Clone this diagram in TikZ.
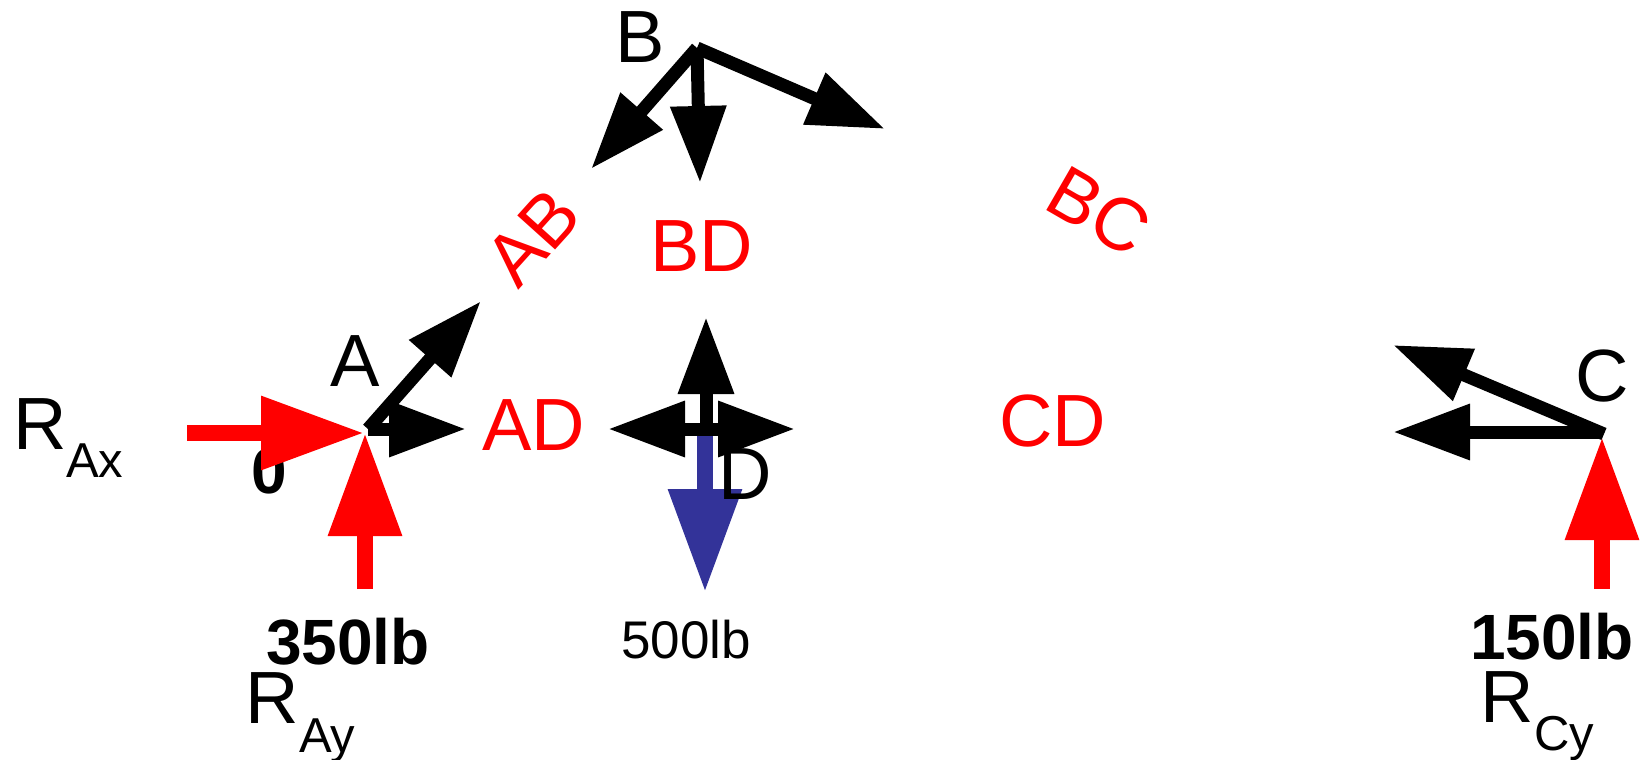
\documentclass[tikz,border=0pt]{standalone}
\usepackage{fontspec}
\setmainfont{Liberation Sans}
\usetikzlibrary{arrows.meta}
\tikzset{
  force/.style={line width=13pt,line cap=butt,-{Triangle[length=77pt,width=53pt,sep=0pt]},black},
  load/.style={line width=16pt,line cap=butt,-{Triangle[length=103pt,width=70pt,sep=0pt]}},
  lbl/.style={anchor=base,inner sep=0pt,outer sep=0pt,font=\fontsize{74}{74}\selectfont},
  rlbl/.style={lbl,text=red},
  rotlbl/.style={text=red,inner sep=0pt,font=\fontsize{74}{74}\selectfont},
  sub/.style={anchor=base west,inner sep=0pt,outer sep=0pt,font=\fontsize{49}{49}\selectfont},
  big/.style={anchor=base west,inner sep=0pt,outer sep=0pt,font=\fontsize{74}{74}\selectfont},
  val/.style={anchor=base,inner sep=0pt,outer sep=0pt,font=\fontsize{64}{64}\selectfont\bfseries},
}
\definecolor{loadblue}{HTML}{333399}
\begin{document}
\begin{tikzpicture}[x=1pt,y=-1pt]
\useasboundingbox (0,0) rectangle (1647,760);
% joints and free ends
\coordinate (Aj) at (368,429);
\coordinate (Atr) at (466,429);
\coordinate (Aur) at (481,301);
\coordinate (Bj) at (697,48);
\coordinate (Bl) at (591,169);
\coordinate (Bd) at (700,183);
\coordinate (Br) at (885,129);
\coordinate (Dj) at (704,429);
\coordinate (Dl) at (608,429);
\coordinate (Dr) at (795,429);
\coordinate (Du) at (706,317);
\coordinate (Cj) at (1604,434);
\coordinate (Ch) at (1600,432);
\coordinate (Cl) at (1393,432);
\coordinate (Cu) at (1393,345);
\coordinate (RxT) at (187,433);
\coordinate (RxH) at (364,433);
\coordinate (RyT) at (365,589);
\coordinate (RyH) at (365,433);
\coordinate (RcT) at (1602,589);
\coordinate (RcH) at (1602,437);
\coordinate (LdT) at (705,436);
\coordinate (LdH) at (705,592);
% values under the arrows
\node[val] (zero) at (269,493) {0};
% member forces
\draw[force] (Aj) -- (Aur);
\draw[force] (Aj) -- (Atr);
\draw[force] (Bj) -- (Bl);
\draw[force] (Bj) -- (Bd);
\draw[force] (Bj) -- (Br);
\draw[force] (Du |- Dj) -- (Du);
\draw[force] (Dj) -- (Dl);
\draw[force] (Dj) -- (Dr);
\draw[force] (Ch) -- (Cl);
\draw[force] (Cj) -- (Cu);
% loads and reactions
\draw[load,red] (RxT) -- (RxH);
\draw[load,red] (RyT) -- (RyH);
\draw[load,red] (RcT) -- (RcH);
\draw[load,loadblue] (LdT) -- (LdH);
% joint labels
\node[lbl] (A) at (355,386) {A};
\node[lbl] (B) at (640,63) {B};
\node[lbl] (C) at (1602,401) {C};
\node[lbl] (D) at (745,499) {D};
% member labels
\node[rlbl] (AD) at (534,450) {AD};
\node[rlbl] (CD) at (1053,446) {CD};
\node[rlbl] (BD) at (702,271) {BD};
\node[rotlbl,rotate=48] (AB) at (533,237) {AB};
\node[rotlbl,rotate=-30] (BC) at (1099,211) {BC};
% reactions
\node[big] (Rax) at (13,449) {R};
\node[sub] (Raxs) at (66,477) {Ax};
\node[big] (Ray) at (245,723) {R};
\node[sub] (Rays) at (299,752) {Ay};
\node[big] (Rcy) at (1480,722) {R};
\node[sub] (Rcys) at (1534,750) {Cy};
\node[val] (v350) at (348,664) {350lb};
\node[val] (v150) at (1552,659) {150lb};
\node[anchor=base,inner sep=0pt,font=\fontsize{53}{53}\selectfont] (v500) at (686,658) {500lb};
\end{tikzpicture}
\end{document}
